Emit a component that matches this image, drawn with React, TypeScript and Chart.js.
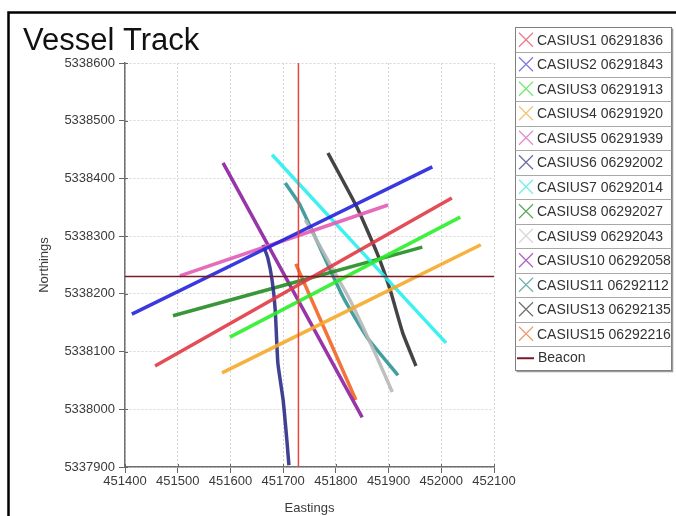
import { useEffect, useRef } from 'react';
import { Chart, registerables } from 'chart.js';

Chart.register(...registerables);

const titleText = 'Vessel Track';
const xTitle = 'Eastings';
const yTitle = 'Northings';

const xMin = 451400;
const xMax = 452100;
const yMin = 5337900;
const yMax = 5338600;
const tickStep = 100;

const seriesNames = [
  'CASIUS1 06291836',
  'CASIUS2 06291843',
  'CASIUS3 06291913',
  'CASIUS4 06291920',
  'CASIUS5 06291939',
  'CASIUS6 06292002',
  'CASIUS7 06292014',
  'CASIUS8 06292027',
  'CASIUS9 06292043',
  'CASIUS10 06292058',
  'CASIUS11 06292112',
  'CASIUS13 06292135',
  'CASIUS15 06292216',
];

const seriesColors = [
  'rgba(224,58,69,0.9)',
  'rgba(36,36,220,0.9)',
  'rgba(42,238,42,0.9)',
  'rgba(245,170,42,0.9)',
  'rgba(226,92,180,0.9)',
  'rgba(44,44,136,0.9)',
  'rgba(42,238,238,0.9)',
  'rgba(36,140,36,0.9)',
  'rgba(184,184,184,0.9)',
  'rgba(140,31,160,0.9)',
  'rgba(47,149,149,0.9)',
  'rgba(48,48,48,0.9)',
  'rgba(242,100,34,0.9)',
];

const legendColors = [
  '#e87a86',
  '#7a7ae0',
  '#6ee86e',
  '#f2c46e',
  '#e08cc8',
  '#6a6aa0',
  '#70ecec',
  '#5aa85a',
  '#d8d8d8',
  '#b060c0',
  '#70b0b0',
  '#707070',
  '#f09a70',
];

// Track points (Eastings / Northings)
const casius1East = [451457, 452020];
const casius1North = [5338075, 5338366];
const casius2East = [451413, 451983];
const casius2North = [5338165, 5338420];
const casius3East = [451599, 452036];
const casius3North = [5338125, 5338333];
const casius4East = [451584, 452075];
const casius4North = [5338063, 5338285];
const casius5East = [451504, 451899];
const casius5North = [5338231, 5338354];
const casius6East = [451662, 451671, 451679, 451685, 451690, 451700, 451707, 451711];
const casius6North = [5338285, 5338262, 5338224, 5338172, 5338080, 5338016, 5337947, 5337903];
const casius7East = [451679, 452009];
const casius7North = [5338441, 5338115];
const casius8East = [451491, 451964];
const casius8North = [5338162, 5338281];
const casius9East = [451742, 451827, 451878, 451907];
const casius9North = [5338328, 5338189, 5338090, 5338030];
const casius10East = [451586, 451850];
const casius10North = [5338427, 5337986];
const casius11East = [451704, 451732, 451814, 451859, 451918];
const casius11North = [5338392, 5338354, 5338194, 5338125, 5338059];
const casius13East = [451785, 451840, 451878, 451903, 451927, 451952];
const casius13North = [5338444, 5338350, 5338271, 5338207, 5338132, 5338075];
const casius15East = [451724, 451838];
const casius15North = [5338252, 5338016];

const trackEast = [
  casius1East, casius2East, casius3East, casius4East, casius5East, casius6East, casius7East,
  casius8East, casius9East, casius10East, casius11East, casius13East, casius15East,
];
const trackNorth = [
  casius1North, casius2North, casius3North, casius4North, casius5North, casius6North, casius7North,
  casius8North, casius9North, casius10North, casius11North, casius13North, casius15North,
];

const beaconName = 'Beacon';
const beaconEast = 451729;
const beaconNorth = 5338230;
const beaconColor = '#7a1a26';
const beaconCrossColor = '#e8463c';

const FONT = '"Liberation Sans", Arial, Helvetica, sans-serif';

const decorPlugin = {
  id: 'decor',
  afterDraw(chart: any) {
    const ctx = chart.ctx as CanvasRenderingContext2D;
    const area = chart.chartArea;
    const xs = chart.scales.x;
    const ys = chart.scales.y;
    ctx.save();

    // inward tick marks
    ctx.strokeStyle = '#666';
    ctx.lineWidth = 1;
    ctx.beginPath();
    xs.ticks.forEach((t: any) => {
      const px = Math.round(xs.getPixelForValue(t.value)) + 0.5;
      ctx.moveTo(px, area.bottom);
      ctx.lineTo(px, area.bottom - 3);
    });
    ys.ticks.forEach((t: any) => {
      const py = Math.round(ys.getPixelForValue(t.value)) + 0.5;
      ctx.moveTo(area.left, py);
      ctx.lineTo(area.left + 3, py);
    });
    ctx.stroke();

    // outer frame
    ctx.strokeStyle = '#000';
    ctx.lineWidth = 2.5;
    ctx.beginPath();
    ctx.moveTo(8.5, 620);
    ctx.lineTo(8.5, 12.5);
    ctx.lineTo(700, 12.5);
    ctx.stroke();

    // title
    ctx.fillStyle = '#111';
    ctx.font = `31px ${FONT}`;
    ctx.textBaseline = 'alphabetic';
    ctx.textAlign = 'left';
    ctx.fillText(titleText, 23, 50);

    // legend
    const lx = 515.5;
    const ly = 27.5;
    const lw = 156;
    const rowH = 24.5;
    const rows = seriesNames.length + 1;
    const lh = rowH * rows;
    ctx.fillStyle = '#fff';
    ctx.fillRect(lx, ly, lw, lh);
    ctx.strokeStyle = '#9a9a9a';
    ctx.lineWidth = 1.5;
    ctx.beginPath();
    ctx.moveTo(lx + lw + 1, ly + 1);
    ctx.lineTo(lx + lw + 1, ly + lh + 1);
    ctx.lineTo(lx + 1, ly + lh + 1);
    ctx.stroke();
    ctx.strokeStyle = '#808080';
    ctx.lineWidth = 1;
    ctx.strokeRect(lx, ly, lw, lh);
    ctx.strokeStyle = '#a8a8a8';
    ctx.beginPath();
    for (let i = 1; i < rows; i++) {
      const y = Math.round(ly + i * rowH) + 0.5;
      ctx.moveTo(lx, y);
      ctx.lineTo(lx + lw, y);
    }
    ctx.stroke();

    ctx.font = `14px ${FONT}`;
    ctx.textBaseline = 'middle';
    for (let i = 0; i < rows; i++) {
      const cy = ly + i * rowH + rowH / 2;
      if (i < seriesNames.length) {
        ctx.strokeStyle = legendColors[i];
        ctx.lineWidth = 1.2;
        ctx.beginPath();
        ctx.moveTo(519, cy - 7);
        ctx.lineTo(533, cy + 7);
        ctx.moveTo(533, cy - 7);
        ctx.lineTo(519, cy + 7);
        ctx.stroke();
        ctx.fillStyle = '#333';
        ctx.fillText(seriesNames[i], 537, cy + 1);
      } else {
        ctx.strokeStyle = beaconColor;
        ctx.lineWidth = 2;
        ctx.beginPath();
        ctx.moveTo(517, cy);
        ctx.lineTo(534, cy);
        ctx.stroke();
        ctx.fillStyle = '#333';
        ctx.fillText(beaconName, 538, cy);
      }
    }
    ctx.restore();
  },
};

export default function App() {
  const canvasRef = useRef<HTMLCanvasElement | null>(null);

  useEffect(() => {
    if (!canvasRef.current) return;
    Chart.defaults.font.family = FONT;

    const trackSets = seriesNames.map((name, i) => ({
      label: name,
      data: trackEast[i].map((e, j) => ({ x: e, y: trackNorth[i][j] })),
      borderColor: seriesColors[i],
      backgroundColor: seriesColors[i],
      borderWidth: 3.5,
      pointRadius: 0,
      showLine: true,
      tension: 0.15,
      order: 2,
    }));

    const beaconSets = [
      {
        label: beaconName,
        data: [
          { x: xMin, y: beaconNorth },
          { x: xMax, y: beaconNorth },
        ],
        borderColor: beaconColor,
        backgroundColor: beaconColor,
        borderWidth: 1.5,
        pointRadius: 0,
        showLine: true,
        order: 0,
      },
      {
        label: beaconName + ' E',
        data: [
          { x: beaconEast, y: yMin },
          { x: beaconEast, y: yMax },
        ],
        borderColor: beaconCrossColor,
        backgroundColor: beaconCrossColor,
        borderWidth: 1.5,
        pointRadius: 0,
        showLine: true,
        order: 0,
      },
    ];

    const chart = new Chart(canvasRef.current, {
      type: 'scatter',
      data: { datasets: [...beaconSets, ...trackSets] as any },
      options: {
        responsive: false,
        animation: false,
        devicePixelRatio: 1,
        layout: { padding: { top: 63, right: 182, bottom: 0, left: 37 } },
        plugins: {
          legend: { display: false },
          title: { display: false },
          tooltip: { enabled: false },
        },
        scales: {
          x: {
            type: 'linear',
            min: xMin,
            max: xMax,
            afterFit: (s: any) => {
              s.height = 49;
            },
            ticks: {
              stepSize: tickStep,
              color: '#3a3a3a',
              font: { size: 13 },
              padding: 1,
              maxRotation: 0,
              callback: (v: any) => String(v),
            },
            grid: {
              color: '#d6d6d6',
              lineWidth: 1,
              tickLength: 6,
              tickColor: '#666',
            },
            border: { display: true, color: '#707070', width: 1.5, dash: [2, 2] },
            title: {
              display: true,
              text: xTitle,
              color: '#3a3a3a',
              font: { size: 13 },
              padding: { top: 0, bottom: 0 },
            },
          },
          y: {
            type: 'linear',
            min: yMin,
            max: yMax,
            afterFit: (s: any) => {
              s.width = 88;
            },
            ticks: {
              stepSize: tickStep,
              color: '#3a3a3a',
              font: { size: 13 },
              padding: 4,
              callback: (v: any) => String(v),
            },
            grid: {
              color: '#d6d6d6',
              lineWidth: 1,
              tickLength: 6,
              tickColor: '#666',
            },
            border: { display: true, color: '#707070', width: 1.5, dash: [2, 2] },
            title: {
              display: true,
              text: yTitle,
              color: '#3a3a3a',
              font: { size: 13 },
              padding: { top: 0, bottom: 0 },
            },
          },
        },
      },
      plugins: [decorPlugin],
    } as any);

    return () => chart.destroy();
  }, []);

  return (
    <div style={{ position: 'fixed', left: 0, top: 0, width: 676, height: 516, background: '#fff' }}>
      <canvas ref={canvasRef} width={676} height={516} style={{ display: 'block' }} />
    </div>
  );
}
